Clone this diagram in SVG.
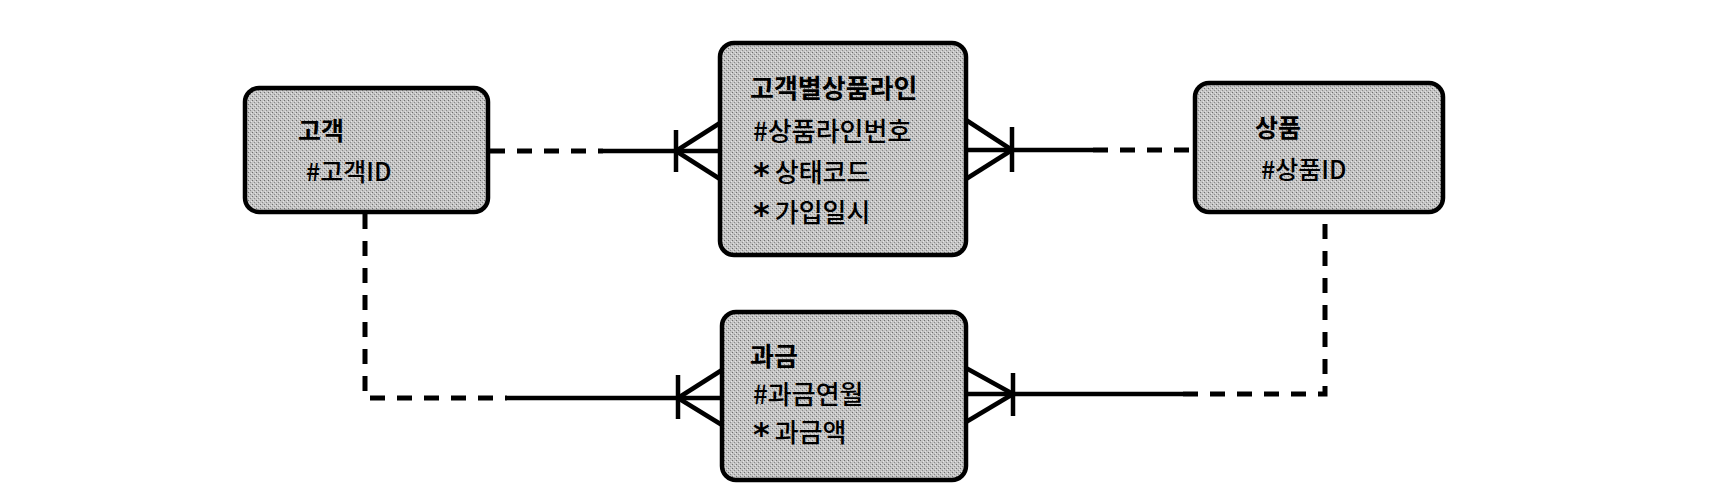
<svg xmlns="http://www.w3.org/2000/svg" width="1720" height="502" viewBox="0 0 1720 502">
<defs>
<pattern id="stip" width="4" height="4" patternUnits="userSpaceOnUse">
<rect width="4" height="4" fill="#c4c4c4"/>
<rect x="0" y="0" width="1" height="1" fill="#6e6e6e"/>
<rect x="2" y="2" width="1" height="1" fill="#8a8a8a"/>
<rect x="3" y="1" width="1" height="1" fill="#e6e6e6"/>
<rect x="1" y="3" width="1" height="1" fill="#e0e0e0"/>
</pattern>
</defs>
<style>
.box{fill:url(#stip);stroke:#000;stroke-width:4.5}
.t{font-family:"Noto Sans CJK KR","Noto Sans",sans-serif;fill:#000}
.title{font-weight:bold}
.attr{font-weight:500}
.sm{font-size:25px}
.lg{font-size:26px}
.star{font-family:"DejaVu Sans",sans-serif;font-size:32px;font-weight:bold}
.dash{fill:none;stroke:#000;stroke-width:5;stroke-dasharray:15 12}
.solid{fill:none;stroke:#000;stroke-width:4.5}
</style>
<rect width="1720" height="502" fill="#fff"/>
<g id="connectors">
<line class="dash" x1="490" y1="151" x2="603" y2="151"/>
<line class="solid" x1="603" y1="151" x2="720" y2="151"/>
<line class="solid" x1="676" y1="130" x2="676" y2="172"/>
<line class="solid" x1="720" y1="123" x2="676" y2="151"/>
<line class="solid" x1="720" y1="179" x2="676" y2="151"/>

<line class="solid" x1="966" y1="150" x2="1093" y2="150"/>
<line class="dash" x1="1093" y1="150" x2="1195" y2="150"/>
<line class="solid" x1="1012" y1="127" x2="1012" y2="172"/>
<line class="solid" x1="966" y1="120" x2="1012" y2="150"/>
<line class="solid" x1="966" y1="179" x2="1012" y2="150"/>

<path class="dash" d="M365,214 V398 H507"/>
<line class="solid" x1="507" y1="398" x2="722" y2="398"/>
<line class="solid" x1="678" y1="375" x2="678" y2="419"/>
<line class="solid" x1="722" y1="370" x2="678" y2="398"/>
<line class="solid" x1="722" y1="425" x2="678" y2="398"/>

<line class="solid" x1="966" y1="394" x2="1183" y2="394"/>
<path class="dash" d="M1183,394 H1325 V214"/>
<line class="solid" x1="1013" y1="373" x2="1013" y2="416"/>
<line class="solid" x1="966" y1="368" x2="1013" y2="394"/>
<line class="solid" x1="966" y1="422" x2="1013" y2="394"/>
</g>
<g id="customer">
<rect class="box" x="245" y="88" width="243" height="124" rx="14"/>
<text class="t title sm" x="298" y="140">고객</text>
<text class="t attr sm" x="306" y="181">#고객ID</text>
</g>
<g id="customer-product-line">
<rect class="box" x="720" y="43" width="246" height="212" rx="14"/>
<text class="t title lg" x="750" y="98">고객별상품라인</text>
<text class="t attr lg" x="753" y="141">#상품라인번호</text>
<text class="t attr lg" x="753" y="182"><tspan class="star" dy="3">*</tspan><tspan dx="5" dy="-3">상태코드</tspan></text>
<text class="t attr lg" x="753" y="222"><tspan class="star" dy="3">*</tspan><tspan dx="5" dy="-3">가입일시</tspan></text>
</g>
<g id="product">
<rect class="box" x="1195" y="83" width="248" height="129" rx="14"/>
<text class="t title sm" x="1255" y="137">상품</text>
<text class="t attr sm" x="1261" y="179">#상품ID</text>
</g>
<g id="billing">
<rect class="box" x="722" y="312" width="244" height="168" rx="14"/>
<text class="t title lg" x="750" y="366">과금</text>
<text class="t attr lg" x="753" y="404">#과금연월</text>
<text class="t attr lg" x="753" y="442"><tspan class="star" dy="3">*</tspan><tspan dx="5" dy="-3">과금액</tspan></text>
</g>
</svg>
